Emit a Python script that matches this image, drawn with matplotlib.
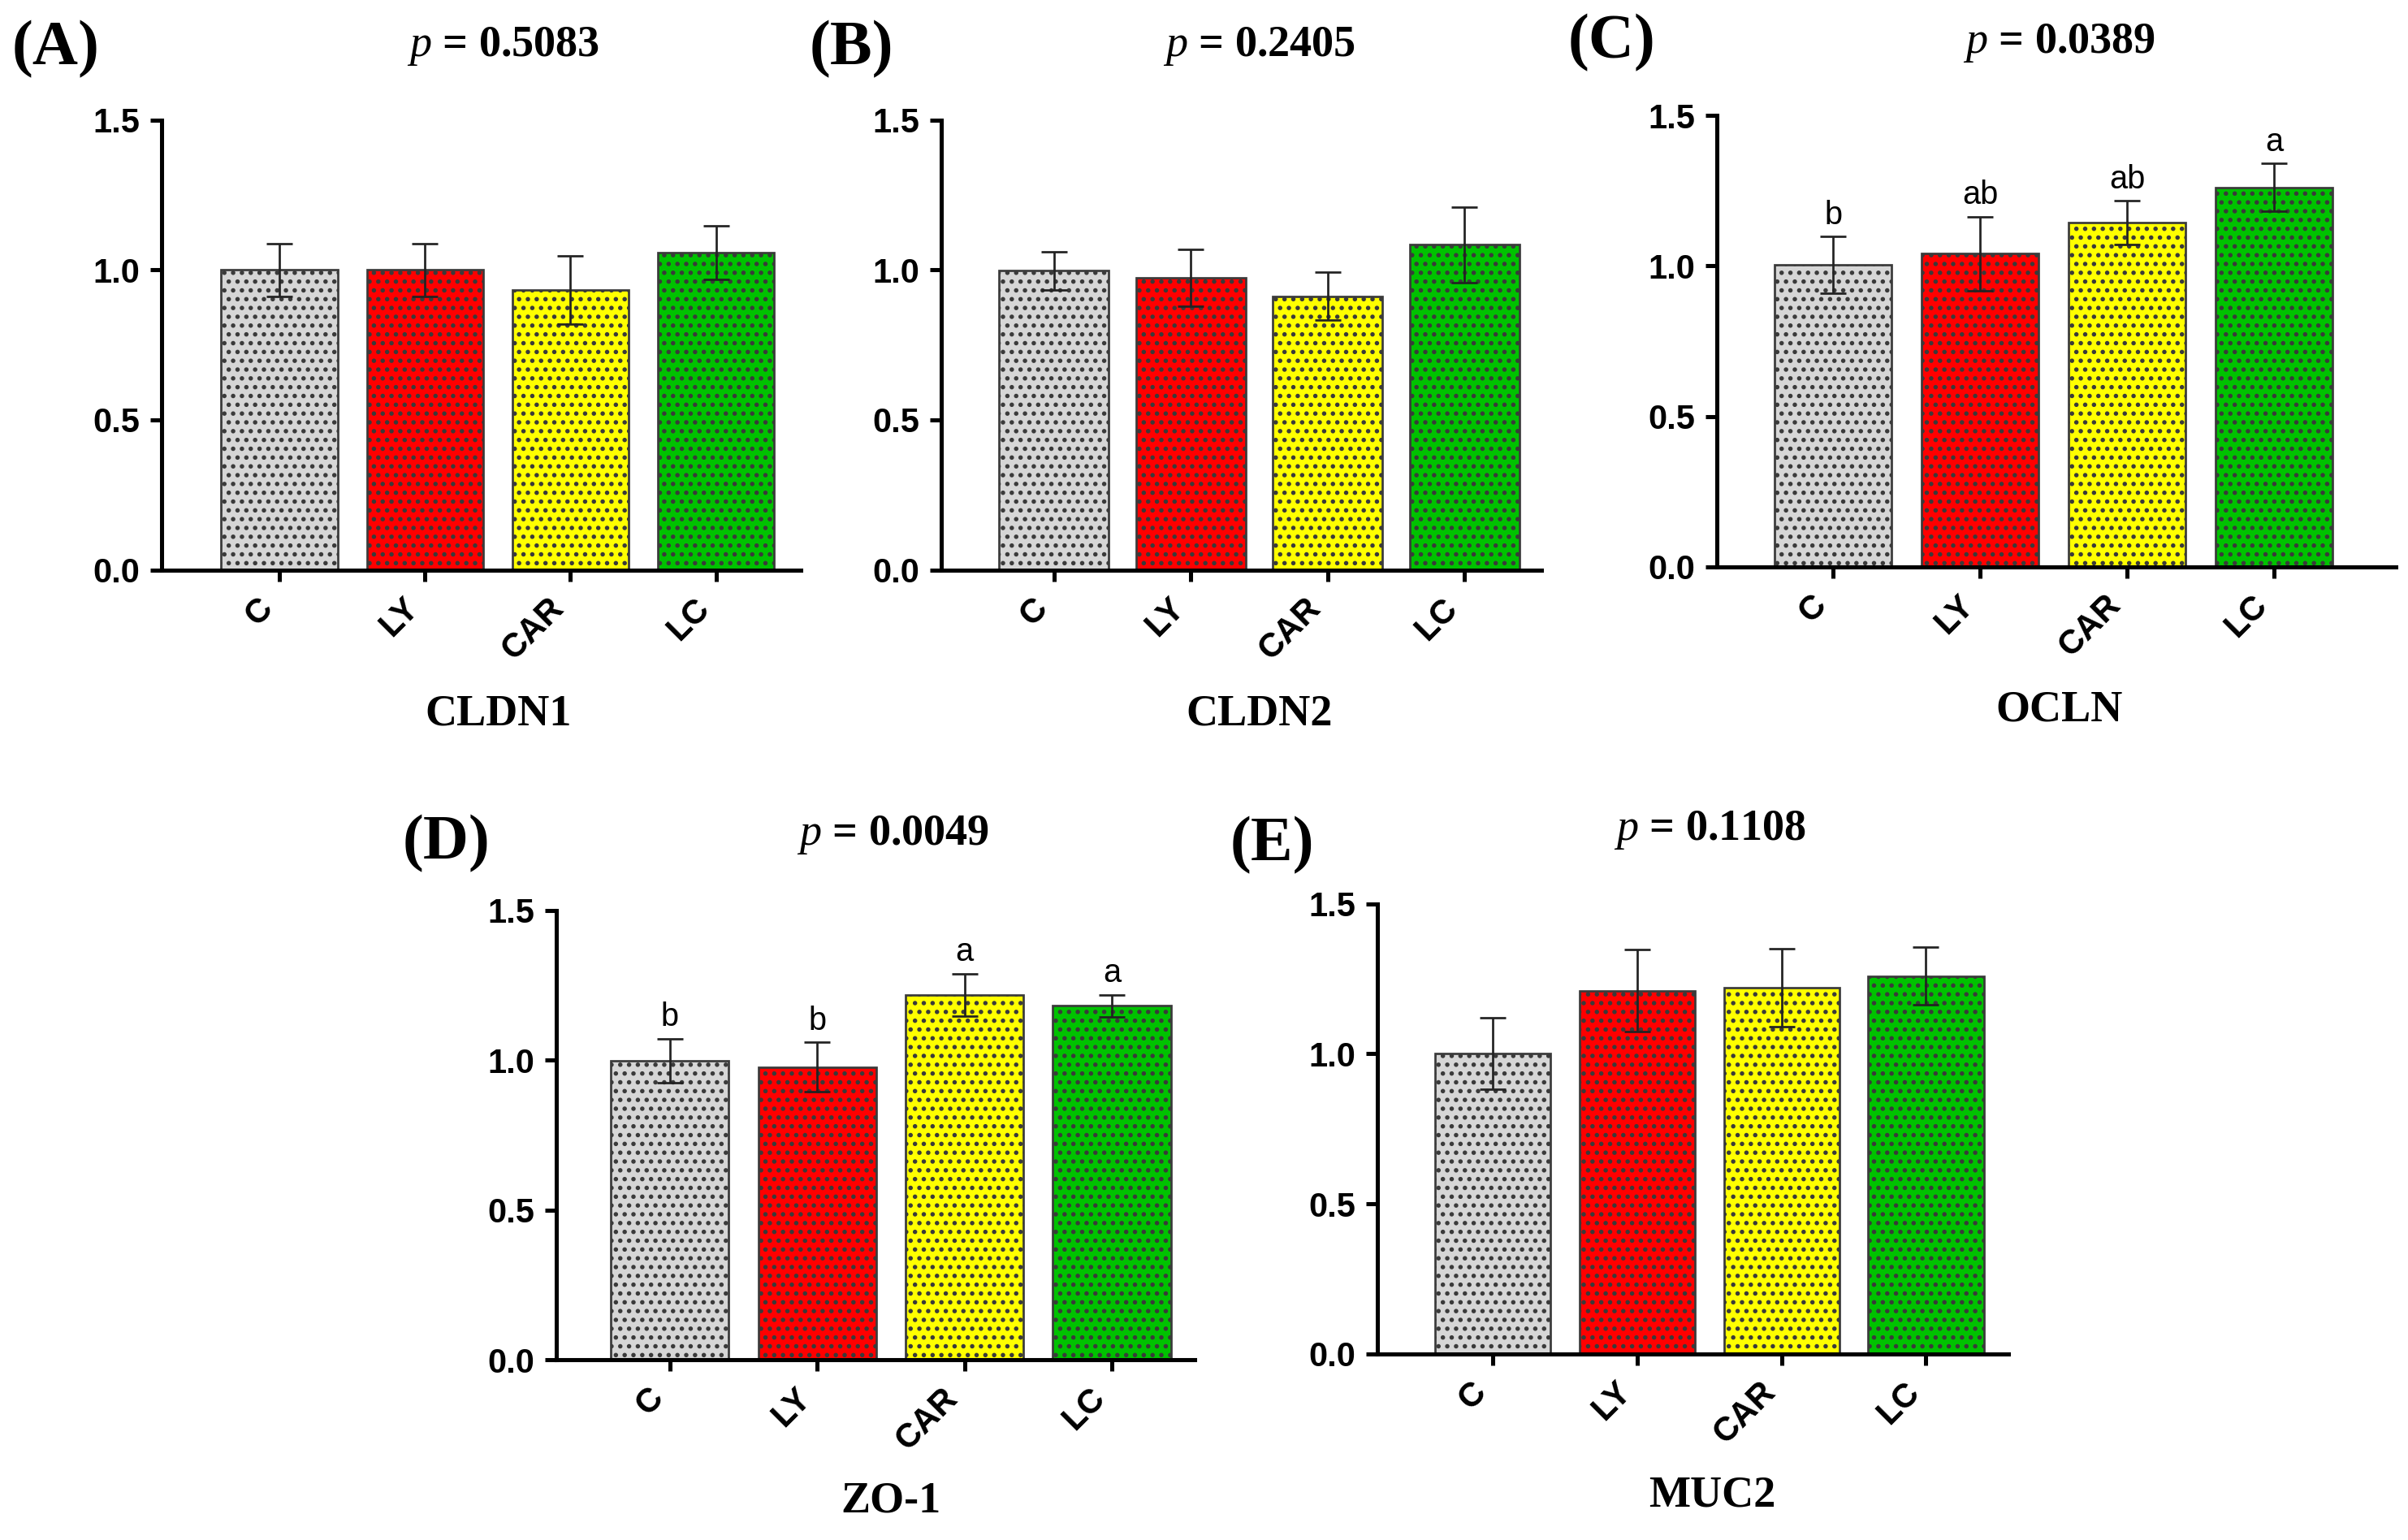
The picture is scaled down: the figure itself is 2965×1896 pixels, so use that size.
import matplotlib
matplotlib.use('Agg')
import matplotlib.pyplot as plt
import numpy as np

# data
groups = ['C', 'LY', 'CAR', 'LC']
colors = ['#d6d6d6', '#ff0000', '#ffff00', '#00c200']

cldn1_mean = [1.00, 1.00, 0.933, 1.058]
cldn1_err = [0.087, 0.087, 0.113, 0.089]

cldn2_mean = [0.998, 0.975, 0.913, 1.084]
cldn2_err = [0.064, 0.095, 0.080, 0.125]

ocln_mean = [1.003, 1.041, 1.144, 1.261]
ocln_err = [0.094, 0.123, 0.072, 0.079]
ocln_sig = ['b', 'ab', 'ab', 'a']

zo1_mean = [0.998, 0.977, 1.217, 1.181]
zo1_err = [0.074, 0.083, 0.071, 0.037]
zo1_sig = ['b', 'b', 'a', 'a']

muc2_mean = [1.001, 1.211, 1.222, 1.260]
muc2_err = [0.119, 0.137, 0.130, 0.095]

genes = ['CLDN1', 'CLDN2', 'OCLN', 'ZO-1', 'MUC2']
pvals = ['0.5083', '0.2405', '0.0389', '0.0049', '0.1108']
letters = ['(A)', '(B)', '(C)', '(D)', '(E)']

plt.rcParams['hatch.linewidth'] = 1.8
plt.rcParams['mathtext.fontset'] = 'custom'
plt.rcParams['mathtext.it'] = 'Liberation Serif:italic'

dpi = 130
fig = plt.figure(figsize=(2965 / dpi, 1896 / dpi), dpi=dpi)

# axes rects, x limits, letter / title / gene label positions (figure fraction)
rects = [(0.0671, 0.630, 0.2653, 0.292),
         (0.391, 0.630, 0.249, 0.292),
         (0.713, 0.632, 0.282, 0.293),
         (0.231, 0.117, 0.265, 0.292),
         (0.572, 0.121, 0.262, 0.292)]
xlims = [(-0.81, 3.58), (-0.82, 3.56), (-0.79, 3.83), (-0.77, 3.56), (-0.80, 3.57)]
letter_xy = [(0.005, 0.968), (0.336, 0.968), (0.651, 0.972), (0.167, 0.452), (0.511, 0.451)]
title_xy = [(0.209, 0.970), (0.523, 0.970), (0.855, 0.972), (0.371, 0.458), (0.710, 0.461)]
gene_xy = [(0.207, 0.536), (0.523, 0.536), (0.855, 0.539), (0.370, 0.025), (0.711, 0.029)]

means = [cldn1_mean, cldn2_mean, ocln_mean, zo1_mean, muc2_mean]
errs = [cldn1_err, cldn2_err, ocln_err, zo1_err, muc2_err]
sigs = [None, None, ocln_sig, zo1_sig, None]

x = np.arange(len(groups))
for i in range(5):
    ax = fig.add_axes(rects[i])
    ax.bar(x, means[i], width=0.8, color=colors, edgecolor='#3a3a3a',
           linewidth=1.5, hatch='..', zorder=2)
    ax.errorbar(x, means[i], yerr=errs[i], fmt='none', ecolor='#222222',
                elinewidth=1.5, capsize=9, capthick=1.5, zorder=3)
    if sigs[i] is not None:
        for xi, m, e, s in zip(x, means[i], errs[i], sigs[i]):
            ax.text(xi, m + e + 0.02, s, ha='center', va='bottom',
                    fontsize=22, family='Liberation Sans')
    ax.set_ylim(0, 1.5)
    ax.set_xlim(*xlims[i])
    ax.set_yticks([0, 0.5, 1.0, 1.5])
    ax.set_yticklabels(['0.0', '0.5', '1.0', '1.5'])
    ax.set_xticks(x)
    ax.set_xticklabels(groups, rotation=45, ha='right')
    for sp in ['top', 'right']:
        ax.spines[sp].set_visible(False)
    for sp in ['left', 'bottom']:
        ax.spines[sp].set_linewidth(2.8)
    ax.tick_params(width=2.8, length=8, labelsize=23, pad=7)
    for lab in ax.get_xticklabels() + ax.get_yticklabels():
        lab.set_fontweight('bold')
        lab.set_family('Liberation Sans')

    fig.text(*letter_xy[i], letters[i], fontsize=43, fontweight='bold',
             family='Liberation Serif', ha='left', va='center')
    fig.text(*title_xy[i], r'$p$ = ' + pvals[i], fontsize=30, fontweight='bold',
             family='Liberation Serif', ha='center', va='center')
    fig.text(*gene_xy[i], genes[i], fontsize=30, fontweight='bold',
             family='Liberation Serif', ha='center', va='center')

fig.savefig('out.png', dpi=dpi)
